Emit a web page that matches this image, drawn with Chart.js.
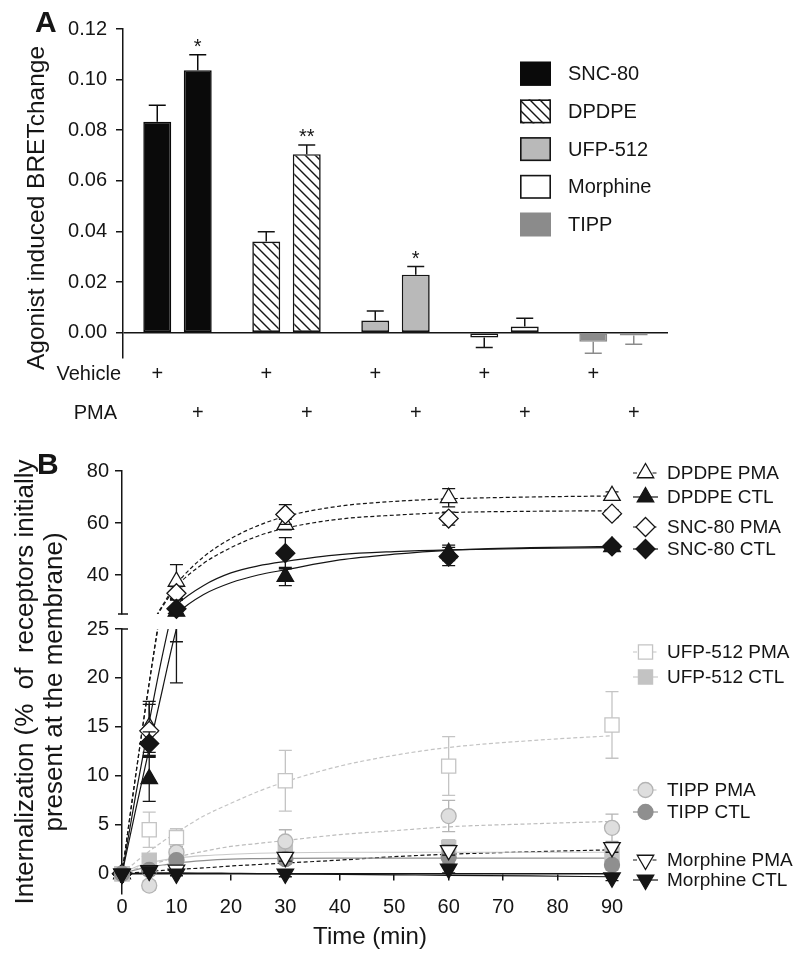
<!DOCTYPE html>
<html>
<head>
<meta charset="utf-8">
<title>BRET change and internalization</title>
<script src="https://cdn.jsdelivr.net/npm/chart.js@4.4.1/dist/chart.umd.min.js"></script>
<style>
  html, body { margin: 0; padding: 0; background: #ffffff; }
  #fig { position: relative; width: 800px; height: 962px; overflow: hidden; background: #fff; }
  #fig canvas { position: absolute; left: 0; top: 0; width: 800px; height: 962px; }
</style>
</head>
<body>
<div id="fig">
  <canvas id="chartA" width="800" height="962"></canvas>
  <canvas id="chartB1" width="800" height="962"></canvas>
  <canvas id="chartB2" width="800" height="962"></canvas>
</div>
<script>
// ================= Panel A data =================
const agonists     = ['SNC-80', 'DPDPE', 'UFP-512', 'Morphine', 'TIPP'];
const treatmentRows = ['Vehicle', 'PMA'];
const vehicleMean  = [0.0834, 0.0360, 0.0048, -0.0019, -0.0036];
const vehicleSem   = [0.0065, 0.0039, 0.0038, 0.0040, 0.0045];
const pmaMean      = [0.1037, 0.0705, 0.0229, 0.0024, -0.0011];
const pmaSem       = [0.0061, 0.0037, 0.0033, 0.0033, 0.0035];
const pmaStars     = ['*', '**', '*', '', ''];
const barTicks     = [0, 0.02, 0.04, 0.06, 0.08, 0.10, 0.12];
const yTitleA      = 'Agonist induced BRETchange';

// ================= Panel B data =================
const times        = [0, 5, 10, 30, 60, 90];
const dpdpePma     = [0, 15.0, 37.5, 59.4, 69.7, 70.5];
const dpdpePmaErr  = [0, 2.6, 6.5, 2.0, 3.5, 1.5];
const dpdpeCtl     = [0, 9.7, 26.0, 39.4, 48.5, 50.8];
const dpdpeCtlErr  = [0, 2.3, 6.5, 3.5, 3.0, 1.2];
const sncPma       = [0, 14.6, 33.0, 63.3, 61.7, 63.6];
const sncPmaErr    = [0, 2.7, 2.5, 3.8, 2.5, 1.5];
const sncCtl       = [0, 13.3, 27.0, 48.4, 47.1, 51.0];
const sncCtlErr    = [0, 1.2, 3.3, 6.0, 3.5, 1.2];
const ufpPma       = [0, 4.5, 3.7, 9.5, 11.0, 15.2];
const ufpPmaErr    = [0, 1.8, 0.9, 3.1, 3.0, 3.4];
const ufpCtl       = [0, 1.4, 1.8, 2.2, 2.7, 2.0];
const ufpCtlErr    = [0, 0.4, 0.5, 0.6, 0.8, 0.7];
const tippPma      = [0, -1.2, 2.2, 3.3, 5.9, 4.7];
const tippPmaErr   = [0, 0.5, 0.6, 1.2, 1.6, 1.4];
const tippCtl      = [0, 0.4, 1.4, 1.5, 1.7, 0.9];
const tippCtlErr   = [0, 0.3, 0.4, 0.5, 0.6, 0.5];
const morPma       = [0, 0.35, 0.4, 1.7, 2.4, 2.7];
const morPmaErr    = [0, 0.3, 0.3, 0.4, 0.5, 0.5];
const morCtl       = [0, 0.3, 0.0, 0.0, 0.5, -0.4];
const morCtlErr    = [0, 0.2, 0.2, 0.3, 0.4, 0.3];

// fitted curves at these times
const fitTimes     = [0, 2.5, 5, 7.5, 10, 15, 20, 25, 30, 40, 50, 60, 75, 90];
const dpdpePmaFit  = [0, 10, 19.5, 28.5, 36.5, 47, 54, 59, 62.5, 66.5, 68.3, 69.3, 70, 70.4];
const sncPmaFit    = [0, 10, 19.5, 28, 35.5, 44.5, 50.5, 55, 58, 61.5, 63, 64, 64.5, 64.7];
const sncCtlFit    = [0, 8, 15.5, 22.5, 28.5, 36, 40.8, 43.5, 45.2, 47.8, 49, 49.7, 50.2, 50.5];
const dpdpeCtlFit  = [0, 6.5, 12.8, 19, 25, 32.5, 37, 40, 42, 45.8, 48, 49.5, 50.5, 51];
const ufpPmaFit    = [0, 1.2, 2.3, 3.3, 4.2, 5.9, 7.2, 8.4, 9.4, 11.0, 12.1, 12.9, 13.6, 14.1];
const ufpCtlFit    = [0, 0.7, 1.1, 1.4, 1.6, 1.85, 2.0, 2.1, 2.15, 2.2, 2.2, 2.2, 2.2, 2.2];
const tippPmaFit   = [0, 0.5, 0.9, 1.3, 1.7, 2.3, 2.8, 3.1, 3.4, 4.0, 4.4, 4.8, 5.1, 5.35];
const tippCtlFit   = [0, 0.4, 0.7, 0.9, 1.1, 1.35, 1.5, 1.55, 1.58, 1.6, 1.6, 1.6, 1.6, 1.6];
const morPmaFit    = [0, 0.12, 0.25, 0.35, 0.45, 0.6, 0.8, 0.95, 1.1, 1.4, 1.75, 2.0, 2.25, 2.45];
const morCtlFit    = [0, 0.05, 0.1, 0.1, 0.1, 0.08, 0.05, 0.02, 0, -0.05, -0.1, -0.15, -0.22, -0.3];

const seriesNamesB = ['DPDPE PMA', 'DPDPE CTL', 'SNC-80 PMA', 'SNC-80 CTL', 'UFP-512 PMA',
                      'UFP-512 CTL', 'TIPP PMA', 'TIPP CTL', 'Morphine PMA', 'Morphine CTL'];
const upperTicks   = [40, 60, 80];
const lowerTicks   = [0, 5, 10, 15, 20, 25];
const timeTicks    = [0, 10, 20, 30, 40, 50, 60, 70, 80, 90];
const yTitleB      = ['Internalization (%  of  receptors initially', 'present at the membrane)'];
const xTitleB      = 'Time (min)';

// ================= common style =================
const FONT = '"Liberation Sans", Arial, Helvetica, sans-serif';
const INK = '#151515';
Chart.defaults.font.family = FONT;
Chart.defaults.color = INK;
Chart.defaults.animation = false;
Chart.defaults.events = [];
Chart.defaults.plugins.legend.display = false;
Chart.defaults.plugins.tooltip.enabled = false;

function makeHatch(ctx) {
  const c = document.createElement('canvas');
  c.width = 10; c.height = 10;
  const g = c.getContext('2d');
  g.fillStyle = '#fff'; g.fillRect(0, 0, 10, 10);
  g.strokeStyle = INK; g.lineWidth = 1.4;
  g.beginPath();
  g.moveTo(-2, -2); g.lineTo(12, 12);
  g.moveTo(-2, 8); g.lineTo(2, 12);
  g.moveTo(8, -2); g.lineTo(12, 2);
  g.stroke();
  return ctx.createPattern(c, 'repeat');
}

function drawMarker(ctx, shape, x, y, r, rot, fill, stroke) {
  ctx.save();
  ctx.beginPath();
  if (shape === 'circle') {
    ctx.arc(x, y, r, 0, Math.PI * 2);
  } else if (shape === 'rect') {
    const s = r * Math.SQRT1_2;
    ctx.rect(x - s, y - s, 2 * s, 2 * s);
  } else if (shape === 'rectRot') {
    ctx.moveTo(x, y - r); ctx.lineTo(x + r, y); ctx.lineTo(x, y + r); ctx.lineTo(x - r, y); ctx.closePath();
  } else {
    let a = rot * Math.PI / 180;
    for (let k = 0; k < 3; k++) {
      const px = x + Math.sin(a) * r, py = y - Math.cos(a) * r;
      if (k === 0) ctx.moveTo(px, py); else ctx.lineTo(px, py);
      a += 2 * Math.PI / 3;
    }
    ctx.closePath();
  }
  ctx.fillStyle = fill; ctx.fill();
  ctx.strokeStyle = stroke; ctx.lineWidth = 1.3; ctx.stroke();
  ctx.restore();
}

// ================= Panel A =================
const ctxA = document.getElementById('chartA').getContext('2d');
const hatch = makeHatch(ctxA);
const barFills = ['#0a0a0a', hatch, '#b9b9b9', '#ffffff', '#8b8b8b'];
const barEdges = ['#0a0a0a', INK, INK, INK, '#8b8b8b'];

const panelAPlugin = {
  id: 'panelA',
  afterDatasetsDraw(chart) {
    const ctx = chart.ctx, y = chart.scales.y;
    ctx.save();
    chart.data.datasets.forEach((ds, di) => {
      chart.getDatasetMeta(di).data.forEach((bar, i) => {
        const v = ds.data[i], e = ds.sem[i];
        const end = v >= 0 ? v + e : v - e;
        const y0 = y.getPixelForValue(v), y1 = y.getPixelForValue(end);
        ctx.strokeStyle = barEdges[i]; ctx.lineWidth = 1.5;
        ctx.beginPath();
        ctx.moveTo(bar.x, y0); ctx.lineTo(bar.x, y1);
        ctx.moveTo(bar.x - 8.5, y1); ctx.lineTo(bar.x + 8.5, y1);
        ctx.stroke();
        if (ds.stars && ds.stars[i]) {
          ctx.fillStyle = INK; ctx.font = '20px ' + FONT;
          ctx.textAlign = 'center'; ctx.textBaseline = 'alphabetic';
          ctx.fillText(ds.stars[i], bar.x, y1 - 1.5);
        }
      });
    });
    ctx.restore();
  },
  afterDraw(chart) {
    const ctx = chart.ctx;
    ctx.save();
    ctx.fillStyle = INK;
    // treatment rows
    ctx.font = '20px ' + FONT;
    ctx.textBaseline = 'middle';
    ctx.textAlign = 'center';
    chart.getDatasetMeta(0).data.forEach(b => ctx.fillText('+', b.x, 374));
    chart.getDatasetMeta(1).data.forEach(b => ctx.fillText('+', b.x, 413));
    ctx.textAlign = 'right';
    ctx.fillText(treatmentRows[0], 121, 374);
    ctx.fillText(treatmentRows[1], 117, 413);
    // legend
    ctx.textAlign = 'left';
    agonists.forEach((name, i) => {
      const cy = 73.7 + i * 37.7;
      ctx.fillStyle = barFills[i];
      ctx.fillRect(520, cy - 12, 31, 24);
      if (barEdges[i] === INK || i === 0) {
        ctx.strokeStyle = barEdges[i]; ctx.lineWidth = 1.6;
        ctx.strokeRect(520.8, cy - 11.2, 29.4, 22.4);
      }
      ctx.fillStyle = INK;
      ctx.fillText(name, 568, cy + 1);
    });
    // panel letter
    ctx.font = 'bold 30px ' + FONT;
    ctx.textBaseline = 'alphabetic';
    ctx.fillText('A', 35, 32);
    // y title
    ctx.font = '24.5px ' + FONT;
    ctx.translate(44, 208);
    ctx.rotate(-Math.PI / 2);
    ctx.textAlign = 'center';
    ctx.fillText(yTitleA, 0, 0);
    ctx.restore();
  }
};

new Chart(ctxA, {
  type: 'bar',
  data: {
    labels: agonists,
    datasets: [
      { label: treatmentRows[0], data: vehicleMean, sem: vehicleSem,
        backgroundColor: barFills, borderColor: barEdges, borderWidth: 1.6, borderSkipped: false },
      { label: treatmentRows[1], data: pmaMean, sem: pmaSem, stars: pmaStars,
        backgroundColor: barFills, borderColor: barEdges, borderWidth: 1.6, borderSkipped: false }
    ]
  },
  options: {
    responsive: false,
    layout: { padding: { left: 53, right: 132, top: 29, bottom: 604 } },
    datasets: { bar: { categoryPercentage: 0.743, barPercentage: 0.69 } },
    scales: {
      x: { display: false },
      y: {
        min: -0.01, max: 0.12,
        afterFit: s => { s.width = 70; },
        afterBuildTicks: s => { s.ticks = barTicks.map(v => ({ value: v })); },
        ticks: { font: { size: 20 }, color: INK, padding: 9, callback: v => Number(v).toFixed(2) },
        grid: {
          color: c => (c.tick && Math.abs(c.tick.value) < 1e-9) ? INK : 'rgba(0,0,0,0)',
          tickColor: INK, lineWidth: 1.5, tickLength: 7, drawTicks: true
        },
        border: { display: true, color: INK, width: 1.5 }
      }
    }
  },
  plugins: [panelAPlugin]
});

// ================= Panel B =================
const styleB = [
  { pts: dpdpePma, err: dpdpePmaErr, fit: dpdpePmaFit, shape: 'triangle', rot: 0,   r: 9.5, fill: '#ffffff', stroke: INK,       line: INK,       dash: true },
  { pts: dpdpeCtl, err: dpdpeCtlErr, fit: dpdpeCtlFit, shape: 'triangle', rot: 0,   r: 9.5, fill: INK,       stroke: INK,       line: INK,       dash: false },
  { pts: sncPma,   err: sncPmaErr,   fit: sncPmaFit,   shape: 'rectRot',  rot: 0,   r: 9.5, fill: '#ffffff', stroke: INK,       line: INK,       dash: true },
  { pts: sncCtl,   err: sncCtlErr,   fit: sncCtlFit,   shape: 'rectRot',  rot: 0,   r: 9.5, fill: INK,       stroke: INK,       line: INK,       dash: false },
  { pts: ufpPma,   err: ufpPmaErr,   fit: ufpPmaFit,   shape: 'rect',     rot: 0,   r: 10,  fill: '#ffffff', stroke: '#c4c4c4', line: '#c4c4c4', dash: true },
  { pts: ufpCtl,   err: ufpCtlErr,   fit: ufpCtlFit,   shape: 'rect',     rot: 0,   r: 10,  fill: '#c3c3c3', stroke: '#c3c3c3', line: '#c9c9c9', dash: false },
  { pts: tippPma,  err: tippPmaErr,  fit: tippPmaFit,  shape: 'circle',   rot: 0,   r: 7.5, fill: '#dedede', stroke: '#b4b4b4', line: '#bdbdbd', dash: true },
  { pts: tippCtl,  err: tippCtlErr,  fit: tippCtlFit,  shape: 'circle',   rot: 0,   r: 7.5, fill: '#8f8f8f', stroke: '#8f8f8f', line: '#8f8f8f', dash: false },
  { pts: morPma,   err: morPmaErr,   fit: morPmaFit,   shape: 'triangle', rot: 180, r: 9.5, fill: '#ffffff', stroke: INK,       line: INK,       dash: true },
  { pts: morCtl,   err: morCtlErr,   fit: morCtlFit,   shape: 'triangle', rot: 180, r: 9.5, fill: INK,       stroke: INK,       line: INK,       dash: false }
];

function buildDatasetsB(lo, hi) {
  const out = [];
  for (let k = styleB.length - 1; k >= 0; k--) {
    const s = styleB[k];
    out.push({
      label: seriesNamesB[k],
      data: times.map((t, i) => ({ x: t, y: s.pts[i] })),
      errors: s.err, errColor: s.stroke,
      showLine: false,
      pointStyle: s.shape, pointRotation: s.rot,
      pointRadius: c => (c.raw && c.raw.y >= lo - 0.01 && c.raw.y <= hi + 0.01) ? s.r : 0,
      pointHoverRadius: 0,
      pointBackgroundColor: s.fill, pointBorderColor: s.stroke, pointBorderWidth: 1.3,
      order: 1, clip: false
    });
  }
  styleB.forEach((s, k) => {
    out.push({
      label: seriesNamesB[k] + ' fit',
      data: fitTimes.map((t, i) => ({ x: t, y: s.fit[i] })),
      borderColor: s.line, borderWidth: 1.2, borderDash: s.dash ? [4, 2.5] : [],
      pointRadius: 0, pointHoverRadius: 0, cubicInterpolationMode: 'monotone', fill: false,
      order: 2, clip: { left: 2, right: 2, top: 0, bottom: 0 }
    });
  });
  return out;
}

const errorBarPlugin = {
  id: 'errorBars',
  beforeDatasetDraw(chart, args) {
    const ds = chart.data.datasets[args.index];
    if (!ds.errors) return;
    const ctx = chart.ctx, x = chart.scales.x, y = chart.scales.y;
    ctx.save();
    ctx.beginPath();
    ctx.rect(x.left - 15, y.top, x.width + 30, y.bottom - y.top);
    ctx.clip();
    ctx.strokeStyle = ds.errColor; ctx.lineWidth = 1.3;
    ds.data.forEach((p, i) => {
      const e = ds.errors[i];
      if (!e) return;
      const px = x.getPixelForValue(p.x);
      const yt = y.getPixelForValue(p.y + e), yb = y.getPixelForValue(p.y - e);
      ctx.beginPath();
      ctx.moveTo(px, yt); ctx.lineTo(px, yb);
      ctx.moveTo(px - 6.5, yt); ctx.lineTo(px + 6.5, yt);
      ctx.moveTo(px - 6.5, yb); ctx.lineTo(px + 6.5, yb);
      ctx.stroke();
    });
    ctx.restore();
  }
};

function yAxisB(min, max, tickList) {
  return {
    min: min, max: max,
    afterFit: s => { s.width = 60; },
    afterBuildTicks: s => { s.ticks = tickList.map(v => ({ value: v })); },
    ticks: { font: { size: 20 }, color: INK, padding: 6 },
    grid: { drawOnChartArea: false, drawTicks: true, tickLength: 7, color: INK, tickColor: INK, lineWidth: 1.5 },
    border: { display: true, color: INK, width: 1.5 }
  };
}

// upper segment (25-80)
const upperPlugin = {
  id: 'upperDeco',
  afterDraw(chart) {
    const ctx = chart.ctx, y = chart.scales.y, x0 = chart.chartArea.left;
    ctx.save();
    ctx.strokeStyle = INK; ctx.lineWidth = 1.5;
    ctx.beginPath(); ctx.moveTo(x0 - 4, y.bottom); ctx.lineTo(x0 + 6, y.bottom); ctx.stroke();
    ctx.restore();
  }
};

new Chart(document.getElementById('chartB1').getContext('2d'), {
  type: 'line',
  data: { datasets: buildDatasetsB(25, 80) },
  options: {
    responsive: false,
    layout: { padding: { left: 62, right: 188, top: 471, bottom: 348 } },
    scales: {
      x: { type: 'linear', min: 0, max: 90, display: false },
      y: yAxisB(25, 80, upperTicks)
    }
  },
  plugins: [errorBarPlugin, upperPlugin]
});

// lower segment (-2 to 25)
const lowerPlugin = {
  id: 'lowerDeco',
  afterDraw(chart) {
    const ctx = chart.ctx, y = chart.scales.y, x0 = chart.chartArea.left;
    ctx.save();
    ctx.strokeStyle = INK; ctx.lineWidth = 1.5;
    ctx.beginPath(); ctx.moveTo(x0, y.top); ctx.lineTo(x0 + 6, y.top); ctx.stroke();

    // legend
    const legY = [473, 497, 527, 549, 652, 677, 790, 812, 860, 880];
    ctx.font = '19px ' + FONT;
    ctx.textAlign = 'left'; ctx.textBaseline = 'middle';
    styleB.forEach((s, k) => {
      const cy = legY[k];
      ctx.strokeStyle = s.line; ctx.lineWidth = 1.2;
      ctx.setLineDash(s.dash ? [4, 2.5] : []);
      ctx.beginPath(); ctx.moveTo(633, cy); ctx.lineTo(658, cy); ctx.stroke();
      ctx.setLineDash([]);
      drawMarker(ctx, s.shape, 645.5, cy, s.r, s.rot, s.fill, s.stroke);
      ctx.fillStyle = INK;
      ctx.fillText(seriesNamesB[k], 667, cy + 1);
    });

    // panel letter
    ctx.fillStyle = INK;
    ctx.font = 'bold 30px ' + FONT;
    ctx.textBaseline = 'alphabetic';
    ctx.fillText('B', 37, 474);

    // x title
    ctx.font = '24px ' + FONT;
    ctx.textAlign = 'center';
    ctx.fillText(xTitleB, 370, 944);

    // y title (two lines)
    ctx.font = '26px ' + FONT;
    ctx.save();
    ctx.translate(0, 682);
    ctx.rotate(-Math.PI / 2);
    ctx.fillText(yTitleB[0], 0, 33);
    ctx.fillText(yTitleB[1], 0, 62);
    ctx.restore();
    ctx.restore();
  }
};

const lowerY = yAxisB(-2, 25, lowerTicks);
new Chart(document.getElementById('chartB2').getContext('2d'), {
  type: 'line',
  data: { datasets: buildDatasetsB(-2, 25) },
  options: {
    responsive: false,
    layout: { padding: { left: 62, right: 188, top: 629, bottom: 68.6 } },
    scales: {
      x: {
        type: 'linear', min: 0, max: 90, position: { y: 0 },
        afterBuildTicks: s => { s.ticks = timeTicks.map(v => ({ value: v })); },
        ticks: { font: { size: 20 }, color: INK, padding: 16, maxRotation: 0 },
        grid: { drawOnChartArea: false, drawTicks: true, tickLength: 6, color: INK, tickColor: INK, lineWidth: 1.5 },
        border: { display: true, color: INK, width: 1.5 }
      },
      y: lowerY
    }
  },
  plugins: [errorBarPlugin, lowerPlugin]
});
</script>
</body>
</html>
